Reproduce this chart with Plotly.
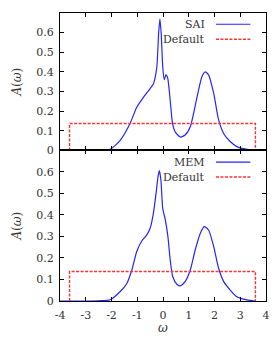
import plotly.graph_objects as go
from plotly.subplots import make_subplots

omega_sai = [-4.0, -3.0, -2.57, -2.05, -1.67, -1.28, -1.02, -0.76, -0.5, -0.37, -0.24, -0.17, -0.12,
             -0.07, -0.01, 0.05, 0.11, 0.18, 0.28, 0.37, 0.47, 0.67, 0.86, 1.06, 1.32, 1.51, 1.64,
             1.77, 1.97, 2.16, 2.36, 2.61, 2.87, 3.26, 3.59]
a_sai = [0.0, 0.0, 0.001, 0.006, 0.05, 0.137, 0.22, 0.27, 0.315, 0.34, 0.425, 0.595, 0.67,
         0.595, 0.425, 0.36, 0.385, 0.37, 0.255, 0.137, 0.095, 0.068, 0.078, 0.12, 0.27, 0.375, 0.40,
         0.385, 0.29, 0.155, 0.085, 0.045, 0.019, 0.005, 0.001]

omega_mem = [-4.0, -3.0, -2.5, -2.05, -1.67, -1.41, -1.21, -1.02, -0.82, -0.63, -0.5, -0.37, -0.27,
             -0.19, -0.14, -0.08, -0.01, 0.09, 0.19, 0.28, 0.38, 0.54, 0.67, 0.86, 1.06, 1.25, 1.45,
             1.60, 1.77, 1.97, 2.16, 2.36, 2.61, 2.87, 3.26, 3.59]
a_mem = [0.0, 0.0, 0.001, 0.006, 0.043, 0.08, 0.144, 0.23, 0.28, 0.307, 0.338, 0.41, 0.50,
         0.58, 0.606, 0.56, 0.43, 0.377, 0.30, 0.19, 0.113, 0.078, 0.07, 0.09, 0.144, 0.237, 0.315,
         0.346, 0.33, 0.253, 0.152, 0.09, 0.051, 0.02, 0.005, 0.0]

default_x = [-3.63, -3.63, 3.59, 3.59]
default_y = [0.0, 0.137, 0.137, 0.0]

x_ticks = [-4, -3, -2, -1, 0, 1, 2, 3, 4]
x_ticklabels = ["-4", "-3", "-2", "-1", "0", "1", "2", "3", "4"]
y_ticks = [0, 0.1, 0.2, 0.3, 0.4, 0.5, 0.6]
y_ticklabels = ["0", "0.1", "0.2", "0.3", "0.4", "0.5", "0.6"]
labels_top = ["SAI", "Default"]
labels_bot = ["MEM", "Default"]

BLUE = "#2424ff"
RED = "#ff3030"
DASH = "3px,1.5px"
FONT = "DejaVu Serif"
TXT = "#333333"

fig = make_subplots(rows=2, cols=1, shared_xaxes=True, vertical_spacing=0,
                    row_heights=[0.477, 0.523])

fig.add_trace(go.Scatter(x=omega_sai, y=a_sai, mode="lines", line=dict(color=BLUE, width=1.2, shape="spline", smoothing=0.6), showlegend=False), row=1, col=1)
fig.add_trace(go.Scatter(x=default_x, y=default_y, mode="lines", line=dict(color=RED, width=1.4, dash=DASH), showlegend=False), row=1, col=1)
fig.add_trace(go.Scatter(x=omega_mem, y=a_mem, mode="lines", line=dict(color=BLUE, width=1.2, shape="spline", smoothing=0.6), showlegend=False), row=2, col=1)
fig.add_trace(go.Scatter(x=default_x, y=default_y, mode="lines", line=dict(color=RED, width=1.4, dash=DASH), showlegend=False), row=2, col=1)

axis_common = dict(showline=True, linecolor="#000000", linewidth=1, mirror="ticks", ticks="inside",
                   ticklen=4, tickcolor="#000000", showgrid=False, zeroline=False,
                   tickfont=dict(family=FONT, size=11, color=TXT))
for r in (1, 2):
    fig.update_xaxes(range=[-4.001, 4.001], tickvals=x_ticks, ticktext=x_ticklabels, row=r, col=1,
                     ticklabeloverflow="allow", ticklabelstandoff=4, **axis_common)
    fig.update_yaxes(range=[0, 0.7], tickvals=y_ticks, ticktext=y_ticklabels, row=r, col=1,
                     ticklabelstandoff=3,
                     title=dict(text="<i>A</i>(<i>ω</i>)", standoff=12,
                                font=dict(family=FONT, size=12, color=TXT)),
                     **axis_common)
fig.update_xaxes(showticklabels=False, row=1, col=1)

ann = []
for yref, xref, labels, ys in (("y domain", "x domain", labels_top, (0.918, 0.809)),
                               ("y2 domain", "x2 domain", labels_bot, (0.922, 0.823))):
    for lab, yy, col, dash in zip(labels, ys, (BLUE, RED), ("solid", DASH)):
        ann.append(dict(text=lab, x=0.712, y=yy, xref=xref, yref=yref, xanchor="right", yanchor="middle",
                        showarrow=False, font=dict(family=FONT, size=11, color=TXT)))
        fig.add_shape(type="line", xref=xref, yref=yref, x0=0.757, x1=0.924, y0=yy, y1=yy,
                      line=dict(color=col, width=1.2 if dash == "solid" else 1.4, dash=dash))
ann.append(dict(text="<i>ω</i>", x=0.5, y=-0.1249, xref="paper", yref="paper", xanchor="center",
                yanchor="bottom", showarrow=False, font=dict(family=FONT, size=12, color=TXT)))
fig.update_layout(annotations=ann, width=274, height=338,
                  margin=dict(l=60, r=8, t=13, b=37, autoexpand=False),
                  paper_bgcolor="white", plot_bgcolor="white", hovermode=False)

fig.write_html("out.html", config={"displayModeBar": False, "staticPlot": True},
               post_script="document.body.style.margin='0';document.body.style.overflow='hidden';")
